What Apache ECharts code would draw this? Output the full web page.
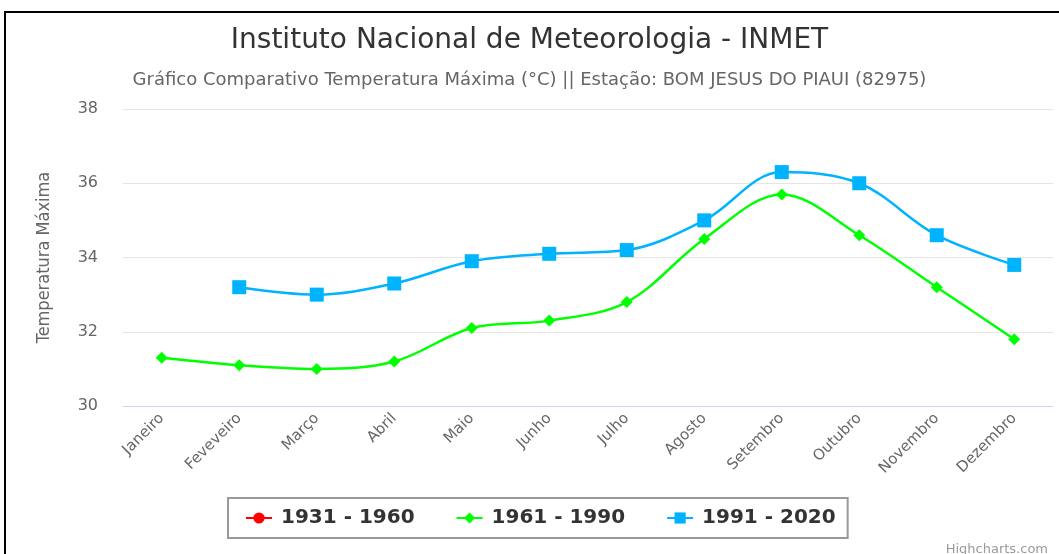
<!DOCTYPE html>
<html>
<head>
    <meta charset="UTF-8">
    <title>Temperatura Máxima - BOM JESUS DO PIAUI</title>
    <script src="https://cdn.jsdelivr.net/npm/echarts@6/dist/echarts.min.js"></script>
    <style>
        html, body { margin: 0; padding: 0; background: #fff; }
        #main { width: 1059px; height: 554px; }
    </style>
</head>
<body>
<div id="main"></div>
<script>
    // meses
    var meses = ['Janeiro', 'Feveveiro', 'Março', 'Abril', 'Maio', 'Junho', 'Julho', 'Agosto', 'Setembro', 'Outubro', 'Novembro', 'Dezembro'];
    // normais climatologicas (°C)
    var serie1931 = [null, null, null, null, null, null, null, null, null, null, null, null];
    var serie1961 = [31.3, 31.1, 31.0, 31.2, 32.1, 32.3, 32.8, 34.5, 35.7, 34.6, 33.2, 31.8];
    var serie1991 = [null, 33.2, 33.0, 33.3, 33.9, 34.1, 34.2, 35.0, 36.3, 36.0, 34.6, 33.8];
    var yTicks = [30, 32, 34, 36, 38];

    var fonte = 'DejaVu Sans, Verdana, sans-serif';

    function linha(nome, dados, cor, simbolo, tam) {
        return {
            name: nome,
            type: 'line',
            data: dados,
            smooth: 0.35,
            symbol: simbolo,
            symbolSize: tam,
            showSymbol: true,
            connectNulls: false,
            itemStyle: {color: cor},
            lineStyle: {color: cor, width: 2.5}
        };
    }

    var chart = echarts.init(document.getElementById('main'), null, {renderer: 'canvas'});
    chart.setOption({
        animation: false,
        backgroundColor: '#fff',
        title: [{
            text: 'Instituto Nacional de Meteorologia - INMET',
            left: 'center',
            top: 22,
            textStyle: {fontFamily: fonte, fontSize: 28, fontWeight: 'normal', color: '#333'}
        }, {
            text: 'Gráfico Comparativo Temperatura Máxima (°C) || Estação: BOM JESUS DO PIAUI (82975)',
            left: 'center',
            top: 66,
            textStyle: {fontFamily: fonte, fontSize: 18, fontWeight: 'normal', color: '#666'}
        }, {
            text: 'Highcharts.com',
            right: 6,
            top: 538,
            textStyle: {fontFamily: fonte, fontSize: 13, fontWeight: 'normal', color: '#999'}
        }],
        graphic: [{
            type: 'polyline',
            shape: {points: [[5, 600], [5, 12], [1100, 12]]},
            style: {stroke: '#000', lineWidth: 2, fill: null}
        }],
        legend: {
            left: 228,
            top: 498,
            padding: [10, 12, 10, 17],
            itemGap: 41,
            itemWidth: 26,
            itemHeight: 14,
            borderColor: '#999',
            borderWidth: 2,
            textStyle: {fontFamily: fonte, fontSize: 20, fontWeight: 'bold', color: '#333', padding: [0, 0, 0, 4]},
            data: ['1931 - 1960', '1961 - 1990', '1991 - 2020']
        },
        grid: {left: 123, right: 6, top: 109, bottom: 148},
        xAxis: {
            type: 'category',
            data: meses,
            boundaryGap: true,
            axisLine: {lineStyle: {color: '#ccd6eb', width: 1}},
            axisTick: {show: false},
            axisLabel: {
                interval: 0,
                rotate: 45,
                margin: 10,
                fontFamily: fonte,
                fontSize: 15,
                color: '#666'
            }
        },
        yAxis: {
            type: 'value',
            min: yTicks[0],
            max: yTicks[yTicks.length - 1],
            interval: 2,
            name: 'Temperatura Máxima',
            nameLocation: 'middle',
            nameGap: 70,
            nameTextStyle: {fontFamily: 'DejaVu Sans Condensed, DejaVu Sans', fontSize: 18, color: '#666'},
            axisLine: {show: false},
            axisTick: {show: false},
            splitLine: {lineStyle: {color: '#e6e6e6', width: 1}},
            axisLabel: {margin: 25, fontFamily: fonte, fontSize: 16, color: '#666'}
        },
        series: [
            linha('1931 - 1960', serie1931, '#ff0000', 'circle', 12),
            linha('1961 - 1990', serie1961, '#00ff00', 'diamond', 12),
            linha('1991 - 2020', serie1991, '#00b3ff', 'rect', 14)
        ]
    });
</script>
</body>
</html>
